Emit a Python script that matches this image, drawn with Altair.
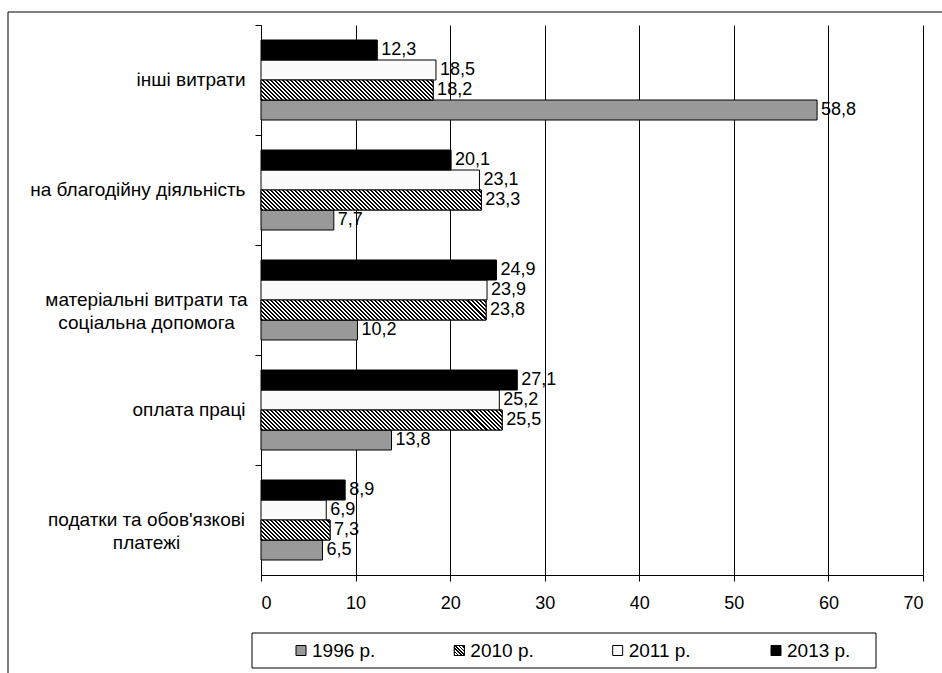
import json
import altair as alt

FONT = "Liberation Sans"

categories = [
    "інші витрати",
    "на благодійну діяльність",
    "матеріальні витрати та соціальна допомога",
    "оплата праці",
    "податки та обов'язкові платежі",
]
label_lines = {
    "матеріальні витрати та соціальна допомога": ["матеріальні витрати та", "соціальна допомога"],
    "податки та обов'язкові платежі": ["податки та обов'язкові", "платежі"],
}
series = ["1996 р.", "2010 р.", "2011 р.", "2013 р."]
bar_order = ["2013 р.", "2011 р.", "2010 р.", "1996 р."]
v1996 = [58.8, 7.7, 10.2, 13.8, 6.5]
v2010 = [18.2, 23.3, 23.8, 25.5, 7.3]
v2011 = [18.5, 23.1, 23.9, 25.2, 6.9]
v2013 = [12.3, 20.1, 24.9, 27.1, 8.9]
x_ticks = [0, 10, 20, 30, 40, 50, 60, 70]
colors = ["#999999", "#666666", "#fbfbfb", "#000000"]
HATCHED = "2010 р."

W, H = 662, 550
XMAX = 70
ppu = W / XMAX
bar_h = H / len(categories) * (80 / 110) / len(series)


def hatch(w, h, period=4.0, dark=0.5):
    """Diagonal '\\' stripes as a linear gradient in bounding-box units."""
    w = max(w, 1.0)
    k = (w + h) / (w * w + h * h)
    n = max(1, int(round((w + h) / period)))
    stops = []
    for i in range(n):
        a, b, c = i / n, (i + dark) / n, (i + 1) / n
        stops += [
            {"offset": round(a, 5), "color": "#000000"},
            {"offset": round(b, 5), "color": "#000000"},
            {"offset": round(b, 5), "color": "#ffffff"},
            {"offset": round(c, 5), "color": "#ffffff"},
        ]
    return {"gradient": "linear", "x1": 0, "y1": 1, "x2": w * k, "y2": 1 - h * k, "stops": stops}


vals = {"1996 р.": v1996, "2010 р.": v2010, "2011 р.": v2011, "2013 р.": v2013}
rows = []
for s in series:
    for c, v in zip(categories, vals[s]):
        r = {"cat": c, "series": s, "value": v}
        if s == HATCHED:
            r["grad"] = hatch(v * ppu, bar_h)
        rows.append(r)
data = alt.Data(values=rows)

legend_rows = []
for s in series:
    r = {"series": s}
    if s == HATCHED:
        r["grad"] = hatch(10, 10, 3.4)
    legend_rows.append(r)
legend_data = alt.Data(values=legend_rows)

# y-axis labels: multi-line labels are centred within their block
label_expr = "datum.label"
for name, lines in reversed(list(label_lines.items())):
    label_expr = (
        f"datum.value === {json.dumps(name, ensure_ascii=False)} ? "
        f"{json.dumps(lines, ensure_ascii=False)} : ({label_expr})"
    )
is_multi = f"indexof({json.dumps(list(label_lines), ensure_ascii=False)}, datum.value) >= 0"

y_axis = alt.Axis(
    title=None,
    labelFont=FONT,
    labelFontSize=19,
    labelColor="black",
    labelLineHeight=23,
    labelPadding={"condition": {"test": is_multi, "value": 109}, "value": 10},
    labelAlign={"condition": {"test": is_multi, "value": "center"}, "value": "right"},
    labelExpr=label_expr,
    labelLimit=400,
    domainColor="black",
    tickColor="black",
    tickSize=6,
    bandPosition=-0.1875,
    grid=False,
)
x_axis = alt.Axis(
    title=None,
    values=x_ticks,
    labelFont=FONT,
    labelFontSize=18,
    labelColor="black",
    labelPadding=13,
    domainColor="black",
    tickColor="black",
    tickSize=6,
    grid=True,
    gridColor="black",
    gridWidth=1,
)

y_enc = alt.Y(
    "cat:N",
    sort=categories,
    scale=alt.Scale(paddingInner=30 / 110, paddingOuter=15 / 110),
    axis=y_axis,
)
yoff = alt.YOffset("series:N", sort=bar_order, scale=alt.Scale(paddingInner=0, paddingOuter=0))
x_enc = alt.X("value:Q", scale=alt.Scale(domain=[0, XMAX], nice=False), axis=x_axis)
fill_scale = alt.Scale(domain=series, range=colors)

base = alt.Chart(data)

bars = base.mark_bar(stroke="black", strokeWidth=1).encode(
    x=x_enc,
    y=y_enc,
    yOffset=yoff,
    fill=alt.Fill("series:N", scale=fill_scale, legend=None),
)

hatched = (
    base.transform_filter(f"datum.series === '{HATCHED}'")
    .mark_bar(stroke="black", strokeWidth=1)
    .encode(
        x=alt.X("value:Q"),
        y=alt.Y("cat:N", sort=categories),
        yOffset=alt.YOffset("series:N", sort=bar_order),
        color=alt.Color("grad:N", scale=None, legend=None),
    )
)

labels = (
    base.transform_calculate(lbl="replace(format(datum.value, '.1f'), '.', ',')")
    .mark_text(align="left", baseline="middle", dx=4, font=FONT, fontSize=18, color="black")
    .encode(
        x=alt.X("value:Q"),
        y=alt.Y("cat:N", sort=categories),
        yOffset=alt.YOffset("series:N", sort=bar_order),
        text="lbl:N",
    )
)

plot = alt.layer(bars, hatched, labels)

# manual legend (the hatched swatch needs a pattern fill)
leg_x = alt.X("series:N", scale=alt.Scale(type="point", domain=series, range=[40, 515], padding=0), axis=None)
leg_y = alt.value(625.5)
leg_base = alt.Chart(legend_data)
leg_sym = leg_base.mark_square(size=100, stroke="black", strokeWidth=1, filled=True, opacity=1).encode(
    x=leg_x, y=leg_y, fill=alt.Fill("series:N", scale=fill_scale, legend=None)
)
leg_hatch = (
    leg_base.transform_filter(f"datum.series === '{HATCHED}'")
    .mark_square(size=100, stroke="black", strokeWidth=1, filled=True, opacity=1)
    .encode(x=leg_x, y=leg_y, color=alt.Color("grad:N", scale=None, legend=None))
)
leg_txt = leg_base.mark_text(align="left", baseline="middle", dx=11, font=FONT, fontSize=19, color="black").encode(
    x=leg_x, y=leg_y, text="series:N"
)
legend_layer = alt.layer(leg_sym, leg_hatch, leg_txt)

one = alt.Data(values=[{"k": 1}])
frame = alt.Chart(one).mark_rect(fill="transparent", stroke="black", strokeWidth=1).encode(
    x=alt.value(-253), x2=alt.value(700), y=alt.value(-13), y2=alt.value(700)
)
legend_box = alt.Chart(one).mark_rect(fill="white", stroke="black", strokeWidth=1).encode(
    x=alt.value(-9), x2=alt.value(615), y=alt.value(608), y2=alt.value(643)
)

chart = (
    alt.layer(frame, legend_box, plot, legend_layer)
    .resolve_scale(x="independent")
    .properties(
        width=W,
        height=H,
        padding={"left": 261, "top": 25, "right": 19, "bottom": 98},
        autosize=alt.AutoSizeParams(type="none"),
        background="white",
    )
    .configure_view(stroke=None)
)

chart.save("out.html", embed_options={"renderer": "svg", "actions": False})
